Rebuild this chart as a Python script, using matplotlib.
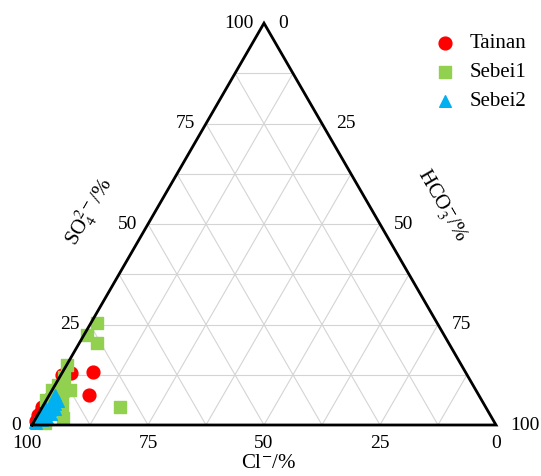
import matplotlib.pyplot as plt
import numpy as np

plt.rcParams['font.family'] = ['Liberation Serif', 'DejaVu Serif']
plt.rcParams['mathtext.fontset'] = 'stix'

# Data: SO4 and HCO3 percentages (Cl = 100 - SO4 - HCO3)
tainan_so4 = [13.3, 7.4, 13.0, 12.4, 4.5, 2.5, 1.0, 6.5, 7.5, 3.2]
tainan_hco3 = [6.5, 8.6, 2.0, 0.2, 0.0, 0.0, 0.3, 0.5, 2.8, 0.3]

sebei1_so4 = [25.3, 22.4, 20.3, 14.9, 8.7, 7.0, 10.0, 8.7, 4.2, 1.7, 4.4, 6.2, 12.0, 0.5]
sebei1_hco3 = [1.3, 0.6, 3.8, 0.0, 3.8, 2.9, 0.7, 0.0, 4.3, 5.9, 16.8, 0.0, 1.0, 2.5]

sebei2_so4 = [2.5, 3.7, 5.0, 6.2, 6.8, 3.7, 1.2, 0.5, 5.2, 1.7, 4.5, 0.8, 2.0,
              7.5, 6.0, 4.0, 2.8]
sebei2_hco3 = [0.5, 0.9, 1.4, 1.5, 1.6, 2.0, 1.5, 0.6, 2.4, 2.3, 0.5, 0.2, 1.2,
               1.2, 2.6, 2.9, 2.7]

ticks = [0, 25, 50, 75, 100]


def to_xy(so4, hco3):
    so4 = np.asarray(so4) / 100.0
    hco3 = np.asarray(hco3) / 100.0
    return hco3 + so4 / 2, so4 * np.sqrt(3) / 2


h = np.sqrt(3) / 2
fig = plt.figure(figsize=(5.41, 4.76), dpi=100)
ax = fig.add_axes([0, 0, 1, 1])
ax.set_xlim(-32 / 464, 509 / 464)
ax.set_ylim(-51 / 464, 425 / 464)
ax.axis('off')

# Grid lines every 12.5 %
for f in np.arange(0.125, 1.0, 0.125):
    ax.plot([f / 2, 1 - f / 2], [f * h, f * h], color='#d4d4d4', lw=0.8, zorder=1)
    ax.plot([f, f / 2 + 0.5], [0, (1 - f) * h], color='#d4d4d4', lw=0.8, zorder=1)
    ax.plot([f, f / 2], [0, f * h], color='#d4d4d4', lw=0.8, zorder=1)

x, y = to_xy(tainan_so4, tainan_hco3)
ax.scatter(x, y, s=85, marker='o', color='#FF0000', label='Tainan', zorder=3)
x, y = to_xy(sebei1_so4, sebei1_hco3)
ax.scatter(x, y, s=65, marker='s', color='#92D050', label='Sebei1', zorder=4)
x, y = to_xy(sebei2_so4, sebei2_hco3)
ax.scatter(x, y, s=70, marker='^', color='#00B0F0', label='Sebei2', zorder=5)

# Triangle border
ax.plot([0, 1, 0.5, 0], [0, 0, h, 0], color='black', lw=2, zorder=6,
        solid_joinstyle='miter')

fs = 14
for t in ticks:
    f = t / 100
    # bottom: Cl (100 at left)
    ax.text(1 - f - 0.01 * (t == 100), -0.04, str(t), ha='center', va='center', fontsize=fs)
    # left: SO4
    ax.text(f / 2 - 0.023, f * h, str(t), ha='right', va='center', fontsize=fs)
    # right: HCO3 (0 at top)
    ax.text(1 - (1 - f) / 2 + 0.03, (1 - f) * h, str(t), ha='left', va='center', fontsize=fs)

ax.text(0.51, -0.082, 'Cl$^{-}$/%', ha='center', va='center', fontsize=15)
ax.text(0.125, 0.459, 'SO$_4^{2-}$/%', ha='center', va='center', fontsize=15, rotation=60)
ax.text(0.881, 0.472, 'HCO$_3^{-}$/%', ha='center', va='center', fontsize=15, rotation=-60)

ax.legend(loc='upper right', bbox_to_anchor=(1.0, 0.96), frameon=False,
          fontsize=15, handletextpad=0.2, borderaxespad=0.3, labelspacing=0.45)

fig.savefig('out.png', dpi=100)
